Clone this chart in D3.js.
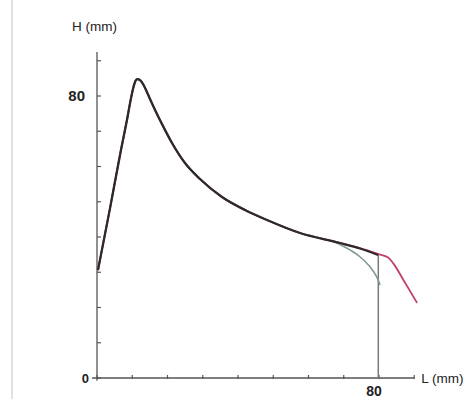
<!DOCTYPE html>
<html><head><meta charset="utf-8">
<script src="https://cdn.jsdelivr.net/npm/d3@7"></script>
<style>html,body{margin:0;padding:0;background:#fff;}svg{display:block;}</style>
</head><body>
<svg id="c" width="472" height="399"></svg>
<script>
// Data (L in mm, H in mm)
const mainCurve = [[0.28,30.6],[3.7,48.2],[6.8,64.7],[8.5,73.2],[9.65,79.4],[10.35,82.55],[10.92,84.3],[11.49,84.8],[12.2,84.5],[13.05,83.4],[14.04,81.4],[15.04,79.15],[16.74,75.46],[18.72,71.49],[21.28,66.67],[24.96,60.99],[29.22,56.45],[35.46,51.35],[41.99,47.66],[48.23,44.82],[57.59,41.13],[68.94,38.3],[74.6,36.74],[79.72,34.89]];
const redTail = [[74.6,36.85],[79.7,35.2],[82.6,34.2],[84.0,32.6],[87.4,27.0],[90.8,21.3]];
const greenTail = [[65,39.3],[68.9,37.9],[72,36.2],[74.6,34.4],[77.4,31.6],[79.4,28.6],[80.3,26.4]];
const dropLine = [[79.8,34.9],[79.8,0]];
const yTicks = [0,10,20,30,40,50,60,70,80,90];
const xTicks = [0,10,20,30,40,50,60,70,80,90];
const yLabels = [0,80];
const xLabels = [80];

const svg = d3.select("#c");
const x = d3.scaleLinear().domain([0,80]).range([97,379]);
const y = d3.scaleLinear().domain([0,80]).range([378,96]);

// page border line
svg.append("line").attr("x1",12).attr("x2",12).attr("y1",0).attr("y2",399)
  .attr("stroke","#e2e2e2").attr("stroke-width",2);

const axisCol = "#555";
svg.append("line").attr("x1",x(0)).attr("x2",x(0)).attr("y1",y(92.5)).attr("y2",y(-0.8))
  .attr("stroke",axisCol).attr("stroke-width",1.3);
svg.append("line").attr("x1",x(-1.4)).attr("x2",x(90)).attr("y1",y(0)).attr("y2",y(0))
  .attr("stroke",axisCol).attr("stroke-width",1.3);
svg.selectAll(".yt").data(yTicks).enter().append("line")
  .attr("x1",x(0)).attr("x2",x(0)+4).attr("y1",d=>y(d)).attr("y2",d=>y(d))
  .attr("stroke",axisCol).attr("stroke-width",1.2);
svg.selectAll(".xt").data(xTicks).enter().append("line")
  .attr("x1",d=>x(d)).attr("x2",d=>x(d)).attr("y1",y(0)+1).attr("y2",y(0)-3)
  .attr("stroke",axisCol).attr("stroke-width",1.2);

const font = "'Liberation Sans', Arial, sans-serif";
svg.selectAll(".yl").data(yLabels).enter().append("text")
  .attr("x", d=> d===0 ? x(0)-8 : x(0)-12).attr("y",d=>y(d)+5)
  .attr("text-anchor","end").attr("font-family",font)
  .attr("font-size", d=> d===0 ? 13 : 15).attr("font-weight","bold").attr("fill","#222")
  .text(d=>d);
svg.selectAll(".xl").data(xLabels).enter().append("text")
  .attr("x",d=>x(d)-5).attr("y",396).attr("text-anchor","middle").attr("font-family",font)
  .attr("font-size",14).attr("font-weight","bold").attr("fill","#222").text(d=>d);
svg.append("text").attr("x",72).attr("y",31).attr("font-family",font).attr("font-size",13.5)
  .attr("fill","#222").text("H (mm)");
svg.append("text").attr("x",x(90)+7).attr("y",y(0)+5).attr("font-family",font).attr("font-size",13.5)
  .attr("fill","#222").text("L (mm)");

const line = d3.line().x(d=>x(d[0])).y(d=>y(d[1])).curve(d3.curveMonotoneX);
const redData = mainCurve.filter(d=>d[0]<74).concat(redTail);
const greenData = mainCurve.filter(d=>d[0]<65).concat(greenTail);

svg.append("path").attr("d",d3.line().x(d=>x(d[0])).y(d=>y(d[1]))(dropLine))
  .attr("stroke","#7a7a7a").attr("stroke-width",1.5).attr("fill","none");
svg.append("path").attr("d",line(greenData)).attr("stroke","#809a8e").attr("stroke-width",1.6).attr("fill","none");
svg.append("path").attr("d",line(redData)).attr("stroke","#c2406a").attr("stroke-width",1.8).attr("fill","none");
svg.append("path").attr("d",line(mainCurve)).attr("stroke","#2e2a2c").attr("stroke-width",2.3).attr("fill","none");
</script>
</body></html>
